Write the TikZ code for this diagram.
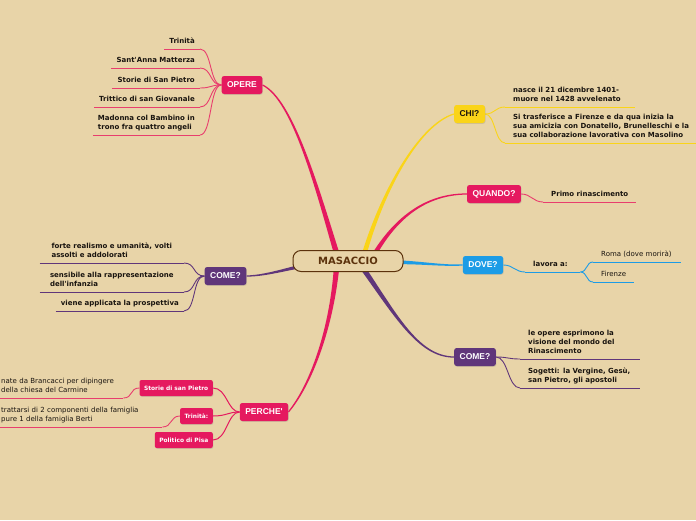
\documentclass[tikz,border=0pt]{standalone}
\usepackage{fontspec}
\setmainfont{DejaVu Sans}
\newfontfamily\libsans{Liberation Sans}
\usetikzlibrary{calc,shadows}
\definecolor{bgc}{RGB}{232,212,168}
\definecolor{mmpink}{RGB}{229,25,95}
\definecolor{mmpinkl}{RGB}{232,62,110}
\definecolor{mmyel}{RGB}{250,212,25}
\definecolor{mmblue}{RGB}{28,156,230}
\definecolor{mmpurp}{RGB}{96,54,122}
\definecolor{mmbrown}{RGB}{92,50,12}
\definecolor{txt}{RGB}{25,20,15}
\pgfdeclarelayer{back}
\pgfdeclarelayer{edges}
\pgfsetlayers{back,edges,main}
% tapered branch: #1 start, #2 ctrl1, #3 ctrl2, #4 end, #5 half width, #6 colour
\newcommand\mmtaper[6]{%
  \fill[#6] ($(#1)!#5!90:(#2)$)
    .. controls ($(#2)!0.6*#5!90:(#3)$) and ($(#3)!0.35*#5!90:(#4)$)
    .. ($(#4)!0.6pt!-90:(#3)$)
    -- ($(#4)!0.6pt!90:(#3)$)
    .. controls ($(#3)!0.35*#5!-90:(#4)$) and ($(#2)!0.6*#5!-90:(#3)$)
    .. ($(#1)!#5!-90:(#2)$) -- cycle;}
\begin{document}
\begin{tikzpicture}[x=1pt,y=-1pt,
  rootbox/.style={draw=mmbrown, line width=1pt, fill=bgc, rounded corners=8pt,
    minimum width=110pt, minimum height=21pt, inner sep=0pt,
    font=\fontsize{10}{12}\selectfont\bfseries, text=mmbrown},
  mainbox/.style={fill=#1, rounded corners=2.5pt, minimum height=18pt,
    inner xsep=5.5pt, inner ysep=0pt, text=white,
    font=\libsans\fontsize{8.5}{10}\selectfont\bfseries,
    drop shadow={opacity=0.25, shadow xshift=0.6pt, shadow yshift=-0.8pt}},
  subbox/.style={fill=mmpink, rounded corners=2pt, minimum height=16pt,
    inner xsep=4.5pt, inner ysep=0pt, text=white,
    font=\fontsize{5.9}{7}\selectfont\bfseries,
    drop shadow={opacity=0.25, shadow xshift=0.6pt, shadow yshift=-0.8pt}},
  leaf/.style={inner xsep=5pt, inner ysep=2.3pt, align=left, text=txt,
    font=\fontsize{7}{9}\selectfont\bfseries},
  leafr/.style={leaf, inner xsep=8pt},
  leafreg/.style={leaf, font=\fontsize{7}{9}\selectfont},
  uline/.style={draw=#1, line width=0.9pt},
  conn/.style={draw=#1, line width=0.9pt},
]
\useasboundingbox (0,0) rectangle (696,520);
\begin{pgfonlayer}{back}
\fill[bgc] (0,0) rectangle (696,520);
\end{pgfonlayer}
\clip (0,0) rectangle (696,520);

% ---------- main nodes ----------
\node[rootbox] (root) at (348,261) {MASACCIO};
\node[mainbox=mmpink] (opere) at (242,85) {OPERE};
\node[mainbox=mmyel, text=txt] (chi) at (469.5,114) {CHI?};
\node[mainbox=mmpink] (quando) at (494,194) {QUANDO?};
\node[mainbox=mmblue] (dove) at (483,265) {DOVE?};
\node[mainbox=mmpurp] (comeR) at (475,357) {COME?};
\node[mainbox=mmpurp] (comeL) at (225.5,276) {COME?};
\node[mainbox=mmpink] (perche) at (264,412) {PERCHE\textquotesingle};

\node[subbox, anchor=east] (st) at (213,388) {Storie di san Pietro};
\node[subbox, anchor=east] (tr) at (213,416) {Trinità:};
\node[subbox, anchor=east] (po) at (213,440) {Politico di Pisa};

% ---------- leaves ----------
\node[leaf, anchor=south east] (o1) at (200,49) {Trinità\strut};
\node[leaf, anchor=south east] (o2) at (200,68) {Sant\textquotesingle Anna Matterza\strut};
\node[leaf, anchor=south east] (o3) at (200,88) {Storie di San Pietro\strut};
\node[leaf, anchor=south east] (o4) at (200,107) {Trittico di san Giovanale\strut};
\node[leaf, anchor=south east] (o5) at (200,135) {Madonna col Bambino in\\trono fra quattro angeli\strut};

\node[leafr, anchor=south west, text width=114pt] (c1) at (505,107) {nasce il 21 dicembre 1401-\\muore nel 1428 avvelenato\strut};
\node[leafr, anchor=south west] (c2) at (505,143) {Si trasferisce a Firenze e da qua inizia la\\sua amicizia con Donatello, Brunelleschi e la\\sua collaborazione lavorativa con Masolino\strut};

\node[leafr, anchor=south west] (q1) at (543,202) {Primo rinascimento\strut};

\node[leafr, anchor=south west, text width=39pt] (d1) at (525,272) {lavora a:\strut};
\node[leafreg, leafr, font=\fontsize{7}{9}\selectfont, anchor=south west, text width=72pt] (d2) at (593,262) {Roma (dove morirà)\strut};
\node[leafreg, leafr, font=\fontsize{7}{9}\selectfont, anchor=south west] (d3) at (593,282) {Firenze\strut};

\node[leafr, anchor=south west, text width=104pt] (m1) at (520,359) {le opere esprimono la\\visione del mondo del\\Rinascimento\strut};
\node[leafr, anchor=south west, text width=104pt] (m2) at (520,388) {Sogetti: la Vergine, Gesù,\\san Pietro, gli apostoli\strut};

\node[leaf, anchor=south east, minimum width=144pt] (l1) at (184,263) {forte realismo e umanità, volti\\assolti e addolorati\strut};
\node[leaf, anchor=south east, minimum width=144pt] (l2) at (184,292) {sensibile alla rappresentazione\\dell\textquotesingle infanzia\strut};
\node[leaf, anchor=south east] (l3) at (184,311) {viene applicata la prospettiva\strut};

\node[leafreg, anchor=south west, text width=117pt] (p1) at (-4,398) {nate da Brancacci per dipingere\\della chiesa del Carmine\strut};
\node[leafreg, anchor=south west, text width=156pt] (p2) at (-4,427) {trattarsi di 2 componenti della famiglia\\pure 1 della famiglia Berti\strut};

% ---------- connectors ----------
\begin{pgfonlayer}{edges}
\coordinate (sOP) at (338,258);
\coordinate (sPE) at (337,262);
\coordinate (sCH) at (362,262);
\coordinate (sQU) at (370,262);
\coordinate (sDO) at (385,262);
\coordinate (sCR) at (360,264);
\coordinate (sCL) at (320,263);
\mmtaper{sOP}{317,188}{293,100}{opere.east}{2.8pt}{mmpink}
\mmtaper{sPE}{332,330}{310,386}{perche.east}{2.8pt}{mmpink}
\mmtaper{sCH}{380,195}{418,125}{chi.west}{2.5pt}{mmyel}
\mmtaper{sQU}{390,225}{420,194}{quando.west}{2.5pt}{mmpink}
\mmtaper{sDO}{420,262}{440,266}{dove.west}{2.3pt}{mmblue}
\mmtaper{sCR}{395,314}{418,357}{comeR.west}{2.7pt}{mmpurp}
\mmtaper{sCL}{295,266}{268,276}{comeL.east}{2.5pt}{mmpurp}

% OPERE leaves
\foreach \n in {o1,o2,o3,o4,o5}{
  \draw[uline=mmpinkl] (\n.south west) -- (\n.south east);
  \draw[conn=mmpinkl] (\n.south east) .. controls +(12,0) and +(-12,0) .. (opere.west);
}
% CHI leaves
\foreach \n in {c1,c2}{
  \draw[uline=mmyel] (\n.south west) -- (\n.south east);
  \draw[conn=mmyel] (chi.east) .. controls +(10,0) and +(-10,0) .. (\n.south west);
}
% QUANDO leaf
\draw[uline=mmpinkl] (q1.south west) -- (q1.south east);
\draw[conn=mmpinkl] (quando.east) .. controls +(10,0) and +(-10,0) .. (q1.south west);
% DOVE leaves
\foreach \n in {d1,d2,d3}{
  \draw[uline=mmblue] (\n.south west) -- (\n.south east);
}
\draw[conn=mmblue] (dove.east) .. controls +(10,0) and +(-10,0) .. (d1.south west);
\draw[conn=mmblue] (d1.south east) .. controls +(7,0) and +(-7,0) .. (d2.south west);
\draw[conn=mmblue] (d1.south east) .. controls +(7,0) and +(-7,0) .. (d3.south west);
% COME right leaves
\foreach \n in {m1,m2}{
  \draw[uline=mmpurp] (\n.south west) -- (\n.south east);
  \draw[conn=mmpurp] (comeR.east) .. controls +(12,0) and +(-12,0) .. (\n.south west);
}
% COME left leaves
\foreach \n in {l1,l2,l3}{
  \draw[uline=mmpurp] (\n.south west) -- (\n.south east);
  \draw[conn=mmpurp] (\n.south east) .. controls +(12,0) and +(-12,0) .. (comeL.west);
}
% PERCHE' sub nodes
\foreach \n in {st,tr,po}{
  \draw[conn=mmpink, line width=1pt] (\n.east) .. controls +(14,0) and +(-12,0) .. (perche.west);
}
\draw[uline=mmpinkl] (p1.south west) -- (p1.south east);
\draw[conn=mmpinkl] (p1.south east) .. controls +(10,0) and +(-10,0) .. (st.west);
\draw[uline=mmpinkl] (p2.south west) -- (p2.south east);
\draw[conn=mmpinkl] (p2.south east) .. controls +(10,0) and +(-10,0) .. (tr.west);
\end{pgfonlayer}
\end{tikzpicture}
\end{document}
